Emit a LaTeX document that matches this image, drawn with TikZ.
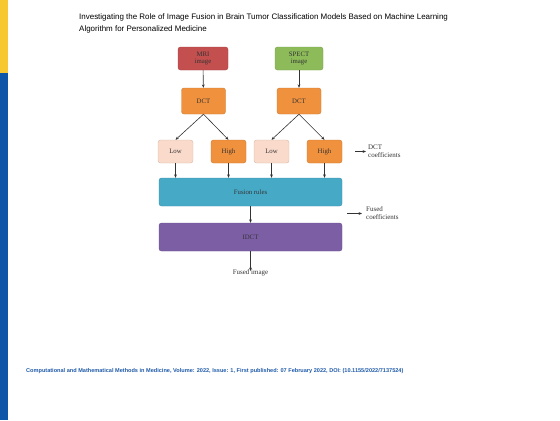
\documentclass[tikz,border=0pt]{standalone}
\usepackage{fontspec}
\setmainfont{Liberation Serif}
\newfontfamily\arialfont{Liberation Sans}
\usetikzlibrary{arrows.meta}
\definecolor{barY}{HTML}{F7C830}
\definecolor{barB}{HTML}{0E56A8}
\definecolor{mriC}{HTML}{C44F4F}
\definecolor{spectC}{HTML}{8DBB59}
\definecolor{dctC}{HTML}{F0913E}
\definecolor{lowC}{HTML}{FADACA}
\definecolor{fusC}{HTML}{46AAC7}
\definecolor{idctC}{HTML}{7C5EA5}
\definecolor{footC}{HTML}{1F5AA8}
\definecolor{txtC}{HTML}{333333}
\begin{document}
\begin{tikzpicture}[x=1bp,y=-1bp,
  blk/.style={draw=#1!85!black, fill=#1, rounded corners=2.5bp, line width=0.4bp, inner sep=0pt, font=\fontsize{6.8}{7.6}\selectfont, text=txtC, align=center},
  arr/.style={-{Stealth[length=3.4bp,width=2.8bp]}, line width=0.6bp, draw=black!80},
  lbl/.style={font=\fontsize{7}{8.2}\selectfont, text=txtC, align=left, anchor=west, inner sep=0pt}]
\useasboundingbox (0,0) rectangle (560,420);
\fill[barY] (0,0) rectangle (8,73);
\fill[barB] (0,73) rectangle (8,420);
\node[anchor=north west, inner sep=0pt, align=left, font=\arialfont\fontsize{8}{11.5}\selectfont] (title) at (79,14)
 {Investigating the Role of Image Fusion in Brain Tumor Classification Models Based on Machine Learning\\Algorithm for Personalized Medicine};
% top boxes
\node[blk=mriC, minimum width=50bp, minimum height=23bp] (mri) at (203,58.5) {MRI\\image};
\node[blk=spectC, minimum width=48bp, minimum height=23bp] (spect) at (299,58.5) {SPECT\\image};
\node[blk=dctC, minimum width=44bp, minimum height=26bp] (dct1) at (203.5,101) {DCT};
\node[blk=dctC, minimum width=44bp, minimum height=26bp] (dct2) at (299,101) {DCT};
\node[blk=lowC, minimum width=35bp, minimum height=23bp] (low1) at (175.5,151.5) {Low};
\node[blk=dctC, minimum width=35bp, minimum height=23bp] (high1) at (228.5,151.5) {High};
\node[blk=lowC, minimum width=35bp, minimum height=23bp] (low2) at (271.5,151.5) {Low};
\node[blk=dctC, minimum width=35bp, minimum height=23bp] (high2) at (324.5,151.5) {High};
\node[blk=fusC, minimum width=183bp, minimum height=28bp] (fus) at (250.5,192) {Fusion rules};
\node[blk=idctC, minimum width=183bp, minimum height=28bp] (idct) at (250.5,237) {IDCT};
\node[lbl, anchor=north, align=center] (fimg) at (250.5,269.5) {Fused image};
% arrows
\draw[arr] (mri) -- (dct1);
\draw[arr] (spect) -- (dct2);
\draw[arr] (dct1.south) -- (low1.north);
\draw[arr] (dct1.south) -- (high1.north);
\draw[arr] (dct2.south) -- (low2.north);
\draw[arr] (dct2.south) -- (high2.north);
\foreach \n in {low1,high1,low2,high2}{\draw[arr] (\n.south) -- (\n.south |- fus.north);}
\draw[arr] (fus) -- (idct);
\draw[arr] (idct) -- ([yshift=-1.5bp]fimg.north);
% side labels
\node[lbl] (dctco) at (368,151.5) {DCT\\coefficients};
\coordinate (a1) at (355,151.5);
\draw[arr] (a1) -- ([xshift=-2bp]dctco.west);
\node[lbl] (fco) at (366,213.5) {Fused\\coefficients};
\coordinate (a2) at (347,213.5);
\draw[arr] (a2) -- ([xshift=-4bp]fco.west);
% footer
\node[anchor=west, inner sep=0pt, text=footC, font=\arialfont\bfseries\fontsize{5.6}{6.5}\selectfont] (foot) at (26,371)
 {Computational and Mathematical Methods in Medicine, Volume: 2022, Issue: 1, First published: 07 February 2022, DOI: (10.1155/2022/7137524)};
\end{tikzpicture}
\end{document}
